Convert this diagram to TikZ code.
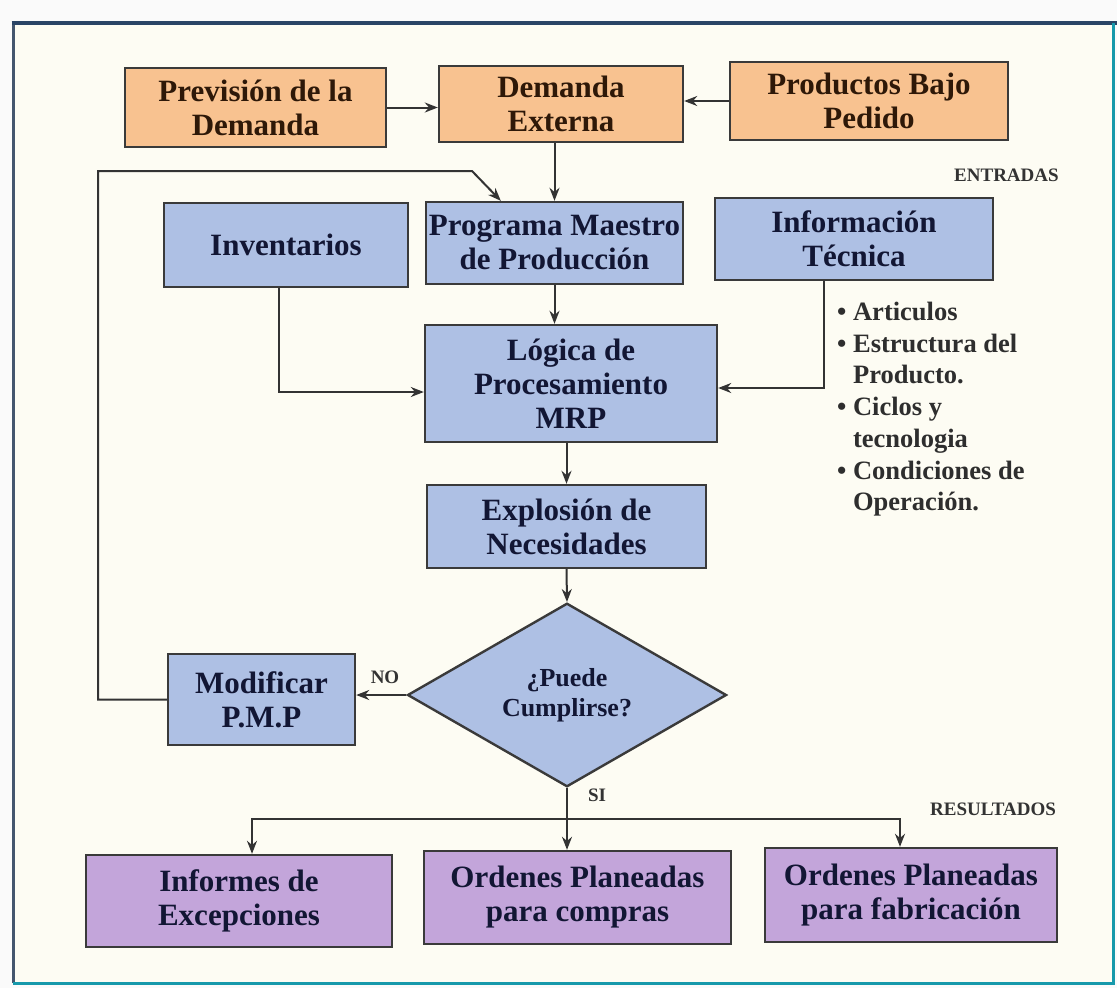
\documentclass[tikz,border=0pt]{standalone}
\usepackage{fontspec}
\setmainfont{Liberation Serif}
\usetikzlibrary{shapes.geometric,arrows.meta,calc}
\definecolor{orfill}{HTML}{F8C290}
\definecolor{blfill}{HTML}{AEC0E4}
\definecolor{pufill}{HTML}{C3A5DA}
\definecolor{bordc}{HTML}{3A3A3A}
\definecolor{ortext}{HTML}{2E1808}
\definecolor{bltext}{HTML}{121634}
\definecolor{framec}{HTML}{2A4566}
\definecolor{bgc}{HTML}{FDFCF3}
\definecolor{linec}{HTML}{333333}
\tikzset{
  box/.style={draw=bordc, line width=2.4pt, align=center, inner sep=2pt,
    font=\bfseries\fontsize{31}{34}\selectfont},
  obox/.style={box, fill=orfill, text=ortext},
  bbox/.style={box, fill=blfill, text=bltext},
  pbox/.style={box, fill=pufill, text=bltext},
  conn/.style={draw=linec, line width=2pt, -{Stealth[length=13pt,width=10pt]}},
  plain/.style={draw=linec, line width=2pt},
  tag/.style={text=black!80, font=\bfseries\fontsize{19}{21}\selectfont, inner sep=0pt}
}
\begin{document}
\begin{tikzpicture}[x=1pt,y=-1pt]
\useasboundingbox (0,0) rectangle (1117,988);
\fill[white!96!gray] (0,0) rectangle (1117,988);
\fill[bgc] (13,23) rectangle (1113,983);
\draw[framec!70!gray, line width=3pt] (13,983) -- (13,23);
\draw[framec, line width=4pt] (11.5,23) -- (1117,23);
\draw[framec!55!cyan, line width=3pt] (13,983) -- (1113,983) -- (1113,23);

% top row
\node[obox, minimum width=261, minimum height=79] (prev) at (255.5,107.5) {Previsión de la\\Demanda};
\node[obox, minimum width=244, minimum height=76] (demext) at (561,104) {Demanda\\Externa};
\node[obox, minimum width=278, minimum height=78] (prod) at (869,101) {Productos Bajo\\Pedido};

% second row
\node[bbox, minimum width=244, minimum height=84] (inv) at (286,245) {Inventarios};
\node[bbox, minimum width=257, minimum height=82] (pmp) at (554.5,243) {Programa Maestro\\de Producción};
\node[bbox, minimum width=278, minimum height=82] (info) at (854,239) {Información\\Técnica};

\node[bbox, minimum width=292, minimum height=117] (logica) at (571,383.5) {Lógica de\\Procesamiento\\MRP};
\node[bbox, minimum width=279, minimum height=83] (expl) at (566.5,526.5) {Explosión de\\Necesidades};
\node[diamond, draw=bordc, line width=2.4pt, fill=blfill, text=bltext, inner sep=0pt,
  minimum width=319, minimum height=170, align=center,
  font=\bfseries\fontsize{26}{30}\selectfont] (dec) at (567,695) {¿Puede\\Cumplirse?};
\node[bbox, minimum width=187, minimum height=91] (modif) at (261.5,699.5) {Modificar\\P.M.P};

% results
\node[pbox, minimum width=306, minimum height=92] (inf) at (239,901) {Informes de\\Excepciones};
\node[pbox, minimum width=307, minimum height=93] (ocomp) at (577.5,897.5) {Ordenes Planeadas\\para compras};
\node[pbox, minimum width=292, minimum height=94] (ofab) at (911,895) {Ordenes Planeadas\\para fabricación};

% labels
\node[tag, anchor=west] (entr) at (954,175) {ENTRADAS};
\node[tag, anchor=west] (res) at (930,809) {RESULTADOS};
\node[tag] (no) at (385,677) {NO};
\node[tag] (si) at (597,795) {SI};

% bullet list
\node[anchor=north west, align=left, inner sep=0pt, text=black!82,
  font=\bfseries\fontsize{26.5}{31.7}\selectfont] (list) at (837,302) {%
  \textbullet\ Articulos\\
  \textbullet\ Estructura del\\
  \phantom{\textbullet\ }Producto.\\
  \textbullet\ Ciclos y\\
  \phantom{\textbullet\ }tecnologia\\
  \textbullet\ Condiciones de\\
  \phantom{\textbullet\ }Operación.};

% connectors
\draw[conn] (prev.east) -- (prev.east -| demext.west);
\draw[conn] (prod.west) -- (prod.west -| demext.east);
\draw[conn] (demext.south -| pmp.north) -- (pmp.north);
\draw[conn] (pmp.south) -- (pmp.south |- logica.north);
\draw[conn] ($(inv.south)+(-7,0)$) |- ($(logica.west)+(0,8.5)$);
\draw[conn] ($(info.south)+(-30,0)$) |- ($(logica.east)+(0,4.5)$);
\draw[conn] (logica.south -| expl.north) -- (expl.north);
\draw[conn] (expl.south) -- (dec.north);
\draw[conn] (dec.west) -- (dec.west -| modif.east);
\coordinate (fb1) at (98,699.5);
\coordinate (fb2) at (98,171);
\coordinate (fb3) at (472,171);
\draw[conn] (modif.west) -- (fb1) -- (fb2) -- (fb3) -- ($(pmp.north west)+(76,0)$);
\coordinate (split) at (567,819);
\draw[plain] (dec.south) -- (split);
\draw[conn] (split) -- (split |- ocomp.north);
\draw[conn] (split) -| ($(inf.north)+(13,0)$);
\draw[conn] (split) -| ($(ofab.north)+(-11,0)$);
\end{tikzpicture}
\end{document}
